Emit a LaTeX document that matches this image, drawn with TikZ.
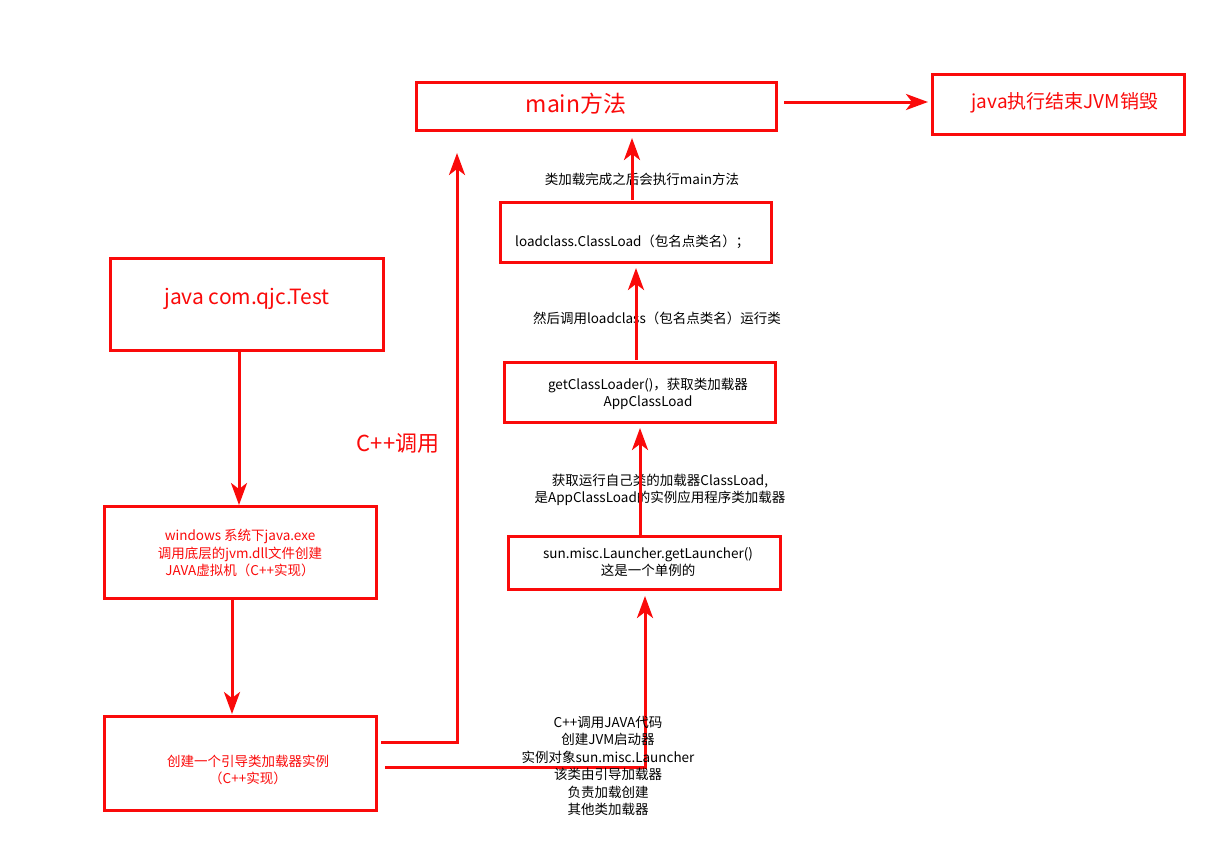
\documentclass[tikz,border=0pt]{standalone}
\usepackage{fontspec}
\setmainfont{Noto Sans CJK SC}
\usetikzlibrary{arrows.meta}
\definecolor{rd}{RGB}{250,10,10}
\tikzset{
 box/.style={draw=rd,line width=3pt,inner sep=0pt},
 arr/.style={draw=rd,line width=3pt,-{Stealth[length=22pt,width=16pt,inset=6pt]}},
 ln/.style={draw=rd,line width=3pt},
 lab/.style={font=\fontsize{13.5pt}{17.5pt}\selectfont,align=center,inner sep=0pt},
}
\begin{document}
\begin{tikzpicture}[x=1pt,y=-1pt]
\useasboundingbox (0,0) rectangle (1212,849);
% boxes
\node[box,minimum width=360pt,minimum height=48pt] (main) at (596,106) {};
\node[text=rd,font=\fontsize{23pt}{26pt}\selectfont] at (576,104) {main方法};
\node[box,minimum width=252pt,minimum height=60pt] (end) at (1058,104) {};
\node[text=rd,font=\fontsize{19pt}{22pt}\selectfont] at (1065,103) {java执行结束JVM销毁};
\node[box,minimum width=271pt,minimum height=60pt] (lc) at (636,232) {};
\node[lab,anchor=west] at (515,242) {loadclass.ClassLoad（包名点类名）；};
\node[box,minimum width=271pt,minimum height=60pt] (gcl) at (640,392) {};
\node[lab] at (648,394) {getClassLoader()，获取类加载器\\AppClassLoad};
\node[box,minimum width=272pt,minimum height=53pt] (sun) at (644,563) {};
\node[lab] at (648,562) {sun.misc.Launcher.getLauncher()\\这是一个单例的};
\node[box,minimum width=273pt,minimum height=92pt] (jt) at (247,304) {};
\node[text=rd,font=\fontsize{21pt}{24pt}\selectfont] at (247,299) {java com.qjc.Test};
\node[box,minimum width=272pt,minimum height=92pt] (win) at (240,552) {};
\node[lab,text=rd] at (240,553) {windows 系统下java.exe\\调用底层的jvm.dll文件创建\\JAVA虚拟机（C++实现）};
\node[box,minimum width=272pt,minimum height=94pt] (cr) at (240,763) {};
\node[lab,text=rd] at (248,770) {创建一个引导类加载器实例\\（C++实现）};
% labels
\node[lab] at (642,179) {类加载完成之后会执行main方法};
\node[lab] at (657,318) {然后调用loadclass（包名点类名）运行类};
\node[lab] at (660,490) {获取运行自己类的加载器ClassLoad,\\是AppClassLoad的实例应用程序类加载器};
\node[text=rd,font=\fontsize{22pt}{25pt}\selectfont,inner sep=0pt] at (398,443) {C++调用};
% arrows
\coordinate (a1) at (784,102); \coordinate (a2) at (928,102);
\draw[arr] (a1) -- (a2);
\coordinate (b1) at (632,200); \coordinate (b2) at (632,138);
\draw[arr] (b1) -- (b2);
\coordinate (c1) at (636,360); \coordinate (c2) at (636,268);
\draw[arr] (c1) -- (c2);
\coordinate (d1) at (640,535); \coordinate (d2) at (640,428);
\draw[arr] (d1) -- (d2);
\coordinate (e0) at (385,767); \coordinate (e1) at (645,767); \coordinate (e2) at (645,596);
\draw[arr] (e0) -- (e1) -- (e2);
\coordinate (f1) at (239,352); \coordinate (f2) at (239,505);
\draw[arr] (f1) -- (f2);
\coordinate (g1) at (232,600); \coordinate (g2) at (232,714);
\draw[arr] (g1) -- (g2);
\coordinate (h0) at (381,742); \coordinate (h1) at (457,742); \coordinate (h2) at (457,153);
\draw[arr] (h0) -- (h1) -- (h2);
\node[lab] at (608,766) {C++调用JAVA代码\\创建JVM启动器\\实例对象sun.misc.Launcher\\该类由引导加载器\\负责加载创建\\其他类加载器};
\end{tikzpicture}
\end{document}
